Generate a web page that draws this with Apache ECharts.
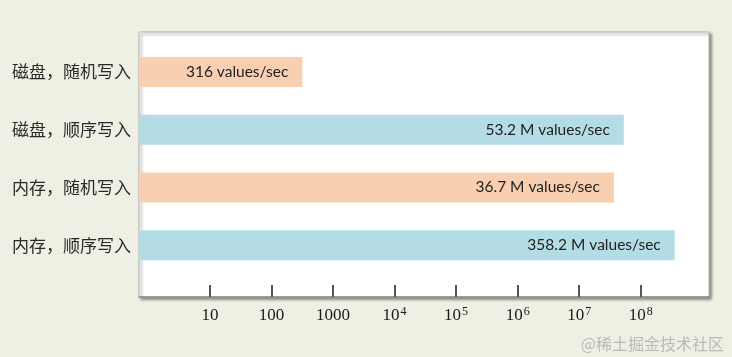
<!DOCTYPE html>
<html><head><meta charset="utf-8">
<script src="https://cdn.jsdelivr.net/npm/echarts@6/dist/echarts.min.js"></script>
<style>html,body{margin:0;padding:0;background:#edf0e3}#c{width:732px;height:357px}</style>
</head><body><div id="c"></div>
<script>
const categories = ['磁盘，随机写入', '磁盘，顺序写入', '内存，随机写入', '内存，顺序写入'];
const values = [316, 53200000, 36700000, 358200000];
const valueLabels = ['316 values/sec', '53.2 M values/sec', '36.7 M values/sec', '358.2 M values/sec'];
const barColors = ['#f9cfb2', '#b4dce6', '#f9cfb2', '#b4dce6'];
const tickValues = [10, 100, 1000, 1e4, 1e5, 1e6, 1e7, 1e8];
const tickLabels = ['10', '100', '1000', '10^4', '10^5', '10^6', '10^7', '10^8'];
const axisMin = 0.7;
const axisMax = 1.29e9;

function fmtTick(v) {
  let best = 0, bd = Infinity;
  tickValues.forEach((t, i) => { const d = Math.abs(Math.log10(t) - Math.log10(v)); if (d < bd) { bd = d; best = i; } });
  if (bd > 0.01) return '';
  const s = tickLabels[best];
  if (s.indexOf('^') >= 0) { const p = s.split('^'); return '{b|' + p[0] + '}{s|' + p[1] + '}'; }
  return '{b|' + s + '}';
}

const chart = echarts.init(document.getElementById('c'));
chart.setOption({
  backgroundColor: '#edf0e3',
  animation: false,
  grid: [
    { left: 139, top: 32, width: 570, height: 265, show: true, backgroundColor: '#ffffff',
      borderColor: '#b8b8b8', borderWidth: 1, shadowColor: 'rgba(0,0,0,0.45)', shadowBlur: 3, shadowOffsetX: 2, shadowOffsetY: 2, z: 0 },
    { left: 139, top: 43, width: 570, height: 231 }
  ],
  xAxis: [
    { type: 'log', gridIndex: 0, min: axisMin, max: axisMax, logBase: 10,
      axisLine: { show: true, lineStyle: { color: '#8a8a8a', width: 1.5 } },
      axisTick: { show: true, inside: true, length: 12, customValues: tickValues, lineStyle: { color: '#555', width: 2 } },
      axisLabel: { show: true, customValues: tickValues, margin: 9, formatter: fmtTick,
        rich: { b: { fontFamily: 'Liberation Serif', fontSize: 17, color: '#1a1a1a', lineHeight: 20 },
                s: { fontFamily: 'Liberation Serif', fontSize: 12, color: '#1a1a1a', verticalAlign: 'top', lineHeight: 20, padding: [0, 0, 9, 1] } } },
      splitLine: { show: false }, minorTick: { show: false } },
    { type: 'log', gridIndex: 1, min: axisMin, max: axisMax, logBase: 10, startValue: axisMin, show: false, splitLine: { show: false } }
  ],
  yAxis: [
    { type: 'value', gridIndex: 0, show: false, splitLine: { show: false } },
    { type: 'category', gridIndex: 1, data: categories, inverse: true,
      axisLine: { show: false }, axisTick: { show: false },
      axisLabel: { fontFamily: 'Noto Sans CJK SC', fontSize: 17, color: '#2a2a2a', margin: 8 } }
  ],
  series: [{
    type: 'bar', xAxisIndex: 1, yAxisIndex: 1, barWidth: 30,
    data: values.map((v, i) => ({ value: v, itemStyle: { color: barColors[i] } })),
    label: { show: true, position: 'insideRight', distance: 14,
      formatter: p => valueLabels[p.dataIndex],
      fontFamily: 'Lato', fontSize: 15.5, color: '#222' }
  }],
  graphic: [{ type: 'text', right: 8, bottom: 5,
    style: { text: '@稀土掘金技术社区', fill: '#b9bbb5', font: '16px "Noto Sans CJK SC"' } }]
});
</script></body></html>
